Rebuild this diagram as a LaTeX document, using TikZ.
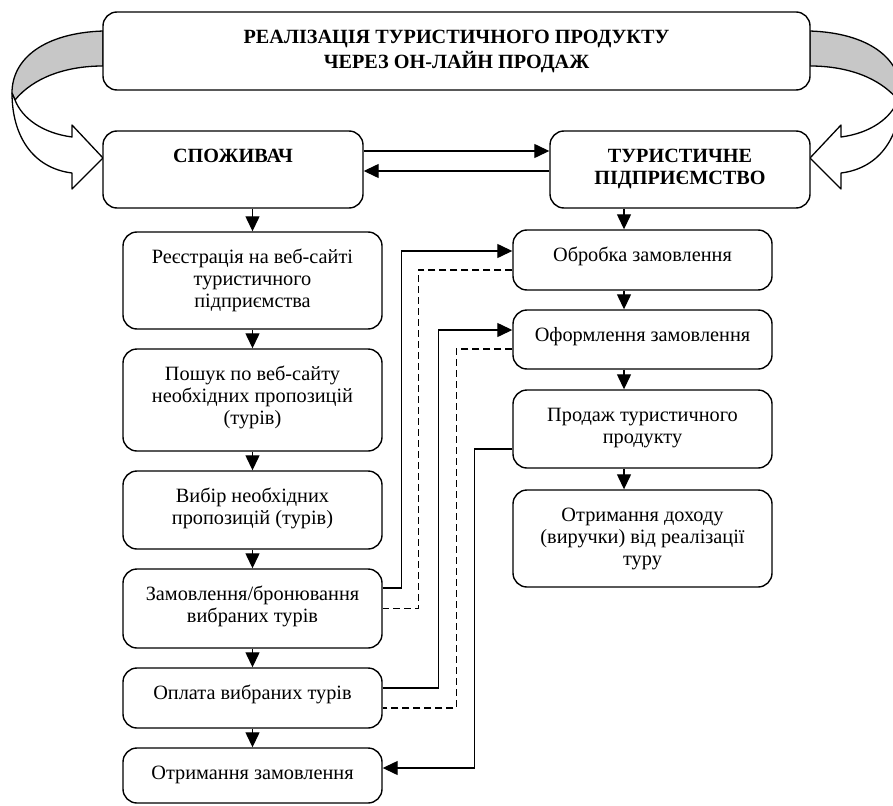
\documentclass[tikz,border=0pt]{standalone}
\usepackage{fontspec}
\setmainfont{Liberation Serif}
\usetikzlibrary{arrows.meta}
\begin{document}
\begin{tikzpicture}[x=1pt,y=-1pt,
  box/.style={draw, line width=1.4pt, rounded corners=14pt, fill=white, inner sep=0pt},
  txt/.style={align=center, inner sep=0pt, font=\fontsize{20.3}{22}\selectfont, anchor=north},
  hd/.style={txt, font=\fontsize{20.2}{22}\selectfont\bfseries},
  conn/.style={line width=1.3pt},
  arr/.style={conn, -{Triangle[length=15pt,width=14pt]}},
  dsh/.style={conn, dash pattern=on 7pt off 4pt},
  band/.style={draw, line width=1.3pt, line join=round}
]
\path[use as bounding box] (0,0) rectangle (893,805);
\clip (0,0) rectangle (893,805);

% curved arrows
\filldraw[band, fill=black!22] (103,31) .. controls (45,33) and (12,58) .. (12,93) -- (15,100) .. controls (33,78) and (65,66) .. (103,66) -- cycle;
\filldraw[band, fill=white] (12,93) .. controls (12,135) and (32,168) .. (72,173) -- (72,189) -- (103,158) -- (72,125) -- (72,137) .. controls (42,133) and (22,118) .. (15,100) -- cycle;
\begin{scope}[xshift=913pt, xscale=-1]
\filldraw[band, fill=black!22] (103,31) .. controls (45,33) and (12,58) .. (12,93) -- (15,100) .. controls (33,78) and (65,66) .. (103,66) -- cycle;
\filldraw[band, fill=white] (12,93) .. controls (12,135) and (32,168) .. (72,173) -- (72,189) -- (103,158) -- (72,125) -- (72,137) .. controls (42,133) and (22,118) .. (15,100) -- cycle;
\end{scope}

% boxes
\node[box, minimum width=707, minimum height=78] (head) at (456.5,51) {};
\node[box, minimum width=260, minimum height=77] (sp) at (233,169.5) {};
\node[box, minimum width=260, minimum height=77] (tp) at (680,169.5) {};

\node[box, minimum width=259, minimum height=97] (b1) at (252.5,280.5) {};
\node[box, minimum width=259, minimum height=102] (b2) at (252.5,400) {};
\node[box, minimum width=259, minimum height=78] (b3) at (252.5,510) {};
\node[box, minimum width=259, minimum height=79] (b4) at (252.5,608.5) {};
\node[box, minimum width=259, minimum height=60] (b5) at (252.5,698) {};
\node[box, minimum width=259, minimum height=55] (b6) at (252.5,775.5) {};

\node[box, minimum width=259, minimum height=60] (r1) at (642.5,260) {};
\node[box, minimum width=259, minimum height=59] (r2) at (642.5,339.5) {};
\node[box, minimum width=259, minimum height=78] (r3) at (642.5,429) {};
\node[box, minimum width=259, minimum height=97] (r4) at (642.5,538.5) {};

% texts
\node[hd] (headt) at ([yshift=-16.5pt]head.north) {\strut РЕАЛІЗАЦІЯ ТУРИСТИЧНОГО ПРОДУКТУ\\ЧЕРЕЗ ОН-ЛАЙН ПРОДАЖ};
\node[hd] (spt) at ([yshift=-16.5pt]sp.north) {\strut СПОЖИВАЧ};
\node[hd] (tpt) at ([yshift=-16.5pt]tp.north) {\strut ТУРИСТИЧНЕ\\ПІДПРИЄМСТВО};

\node[txt] (b1t) at ([yshift=-17pt]b1.north) {\strut Реєстрація на веб-сайті\\туристичного\\підприємства};
\node[txt] (b2t) at ([yshift=-17pt]b2.north) {\strut Пошук по веб-сайту\\необхідних пропозицій\\(турів)};
\node[txt] (b3t) at ([yshift=-17pt]b3.north) {\strut Вибір необхідних\\пропозицій (турів)};
\node[txt] (b4t) at ([yshift=-17pt]b4.north) {\strut Замовлення/бронювання\\вибраних турів};
\node[txt] (b5t) at ([yshift=-17pt]b5.north) {\strut Оплата вибраних турів};
\node[txt] (b6t) at ([yshift=-17pt]b6.north) {\strut Отримання замовлення};

\node[txt] (r1t) at ([yshift=-17pt]r1.north) {\strut Обробка замовлення};
\node[txt] (r2t) at ([yshift=-17pt]r2.north) {\strut Оформлення замовлення};
\node[txt] (r3t) at ([yshift=-17pt]r3.north) {\strut Продаж туристичного\\продукту};
\node[txt] (r4t) at ([yshift=-17pt]r4.north) {\strut Отримання доходу\\(виручки) від реалізації\\туру};

% top arrows
\draw[arr] ([yshift=18.5pt]sp.east) -- ([yshift=18.5pt]tp.west);
\draw[arr] ([yshift=-1.5pt]tp.west) -- ([yshift=-1.5pt]sp.east);

% vertical arrows left
\draw[arr] (b1.north |- sp.south) -- (b1.north);
\draw[arr] (b1.south) -- (b2.north);
\draw[arr] (b2.south) -- (b3.north);
\draw[arr] (b3.south) -- (b4.north);
\draw[arr] (b4.south) -- (b5.north);
\draw[arr] (b5.south) -- (b6.north);

% vertical arrows right
\draw[arr] ([xshift=-18.5pt]r1.north |- tp.south) -- ([xshift=-18.5pt]r1.north);
\draw[arr] ([xshift=-18.5pt]r1.south) -- ([xshift=-18.5pt]r2.north);
\draw[arr] ([xshift=-18.5pt]r2.south) -- ([xshift=-18.5pt]r3.north);
\draw[arr] ([xshift=-18.5pt]r3.south) -- ([xshift=-18.5pt]r4.north);

% cross connectors
\draw[arr] ([yshift=20.5pt]b4.east) -- ++(19,0) |- ([yshift=9pt]r1.west);
\draw[dsh] ([yshift=-10pt]r1.west) -- ++(-94,0) |- (b4.east);
\draw[arr] ([yshift=10pt]b5.east) -- ++(56,0) |- ([yshift=9.5pt]r2.west);
\draw[dsh] ([yshift=-9.5pt]r2.west) -- ++(-56,0) |- ([yshift=-10pt]b5.east);
\draw[arr] ([yshift=-20pt]r3.west) -- ++(-38,0) |- ([yshift=7.5pt]b6.east);
\end{tikzpicture}
\end{document}
